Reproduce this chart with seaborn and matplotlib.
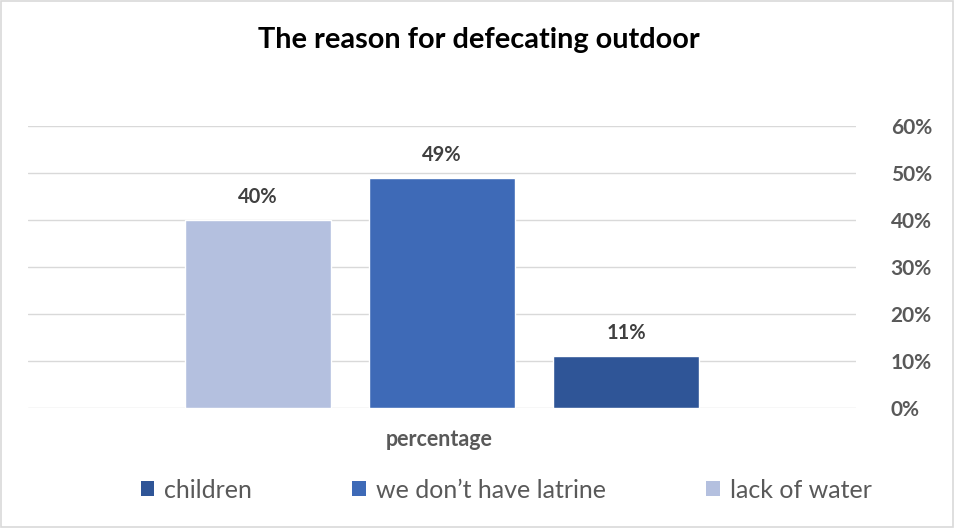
import matplotlib
matplotlib.use("Agg")
import matplotlib.pyplot as plt
import matplotlib.patches as mpatches
import matplotlib.ticker as mticker
import pandas as pd
import seaborn as sns

# Survey answers: share of respondents per reason
reasons = ["lack of water", "we don\u2019t have latrine", "children"]
shares = [0.40, 0.49, 0.11]
bar_colors = ["#B4C0DF", "#3E6AB7", "#2F5597"]
legend_order = ["children", "we don\u2019t have latrine", "lack of water"]
y_ticks = [0.0, 0.1, 0.2, 0.3, 0.4, 0.5, 0.6]
category = "percentage"
title = "The reason for defecating outdoor"

df = pd.DataFrame({"group": [category] * len(reasons), "reason": reasons, "share": shares})
palette = dict(zip(reasons, bar_colors))

sns.set_theme(style="white")
plt.rcParams["font.family"] = ["Lato", "DejaVu Sans"]

fig = plt.figure(figsize=(9.56, 5.31), dpi=100)
ax = fig.add_axes([28 / 956, 1 - 408 / 531, (856 - 28) / 956, (408 - 126) / 531])

sns.barplot(data=df, x="group", y="share", hue="reason", hue_order=reasons,
            palette=palette, width=1.0, gap=0.21, saturation=1, legend=False,
            ax=ax, zorder=3)

ax.set_xlim(-0.75, 0.75)
ax.set_ylim(0, 0.6)
ax.set_yticks(y_ticks)
ax.yaxis.set_major_formatter(mticker.FuncFormatter(lambda v, _: f"{v * 100:.0f}%"))
ax.yaxis.tick_right()
ax.tick_params(axis="y", length=0, pad=25, labelsize=15, labelcolor="#595959")
for lbl in ax.get_yticklabels():
    lbl.set_fontweight("bold")
ax.set_xticks([])
ax.set_xlabel("")
ax.set_ylabel("")
ax.grid(axis="y", color="#D9D9D9", linewidth=1.0, zorder=0)
for s in ax.spines.values():
    s.set_visible(False)

# Value labels above the bars
for patch, val in zip(ax.patches, shares):
    ax.annotate(f"{val * 100:.0f}%", (patch.get_x() + patch.get_width() / 2, val),
                xytext=(0, 16.5), textcoords="offset points", ha="center", va="center",
                fontsize=14.5, fontweight="bold", color="#404040")

fig.text(439 / 956, 1 - 440 / 531, category, ha="center", va="center",
         fontsize=15.5, fontweight="bold", color="#595959")
fig.text(479 / 956, 1 - 40 / 531, title, ha="center", va="center",
         fontsize=20.8, fontweight="bold", color="#000000")

handles = [mpatches.Patch(facecolor=palette[r], edgecolor="none", label=r) for r in legend_order]
fig.legend(handles=handles, loc="center", bbox_to_anchor=(506 / 956, 1 - 490 / 531),
           ncol=3, frameon=False, fontsize=18, labelcolor="#595959",
           handlelength=0.55, handleheight=0.55, handletextpad=0.4, columnspacing=4.0)

fig.add_artist(mpatches.Rectangle((1 / 956, 4 / 531), 952 / 956, 526 / 531,
                                  transform=fig.transFigure, fill=False,
                                  edgecolor="#D9D9D9", linewidth=1.2))

fig.savefig("out.png", dpi=100)
